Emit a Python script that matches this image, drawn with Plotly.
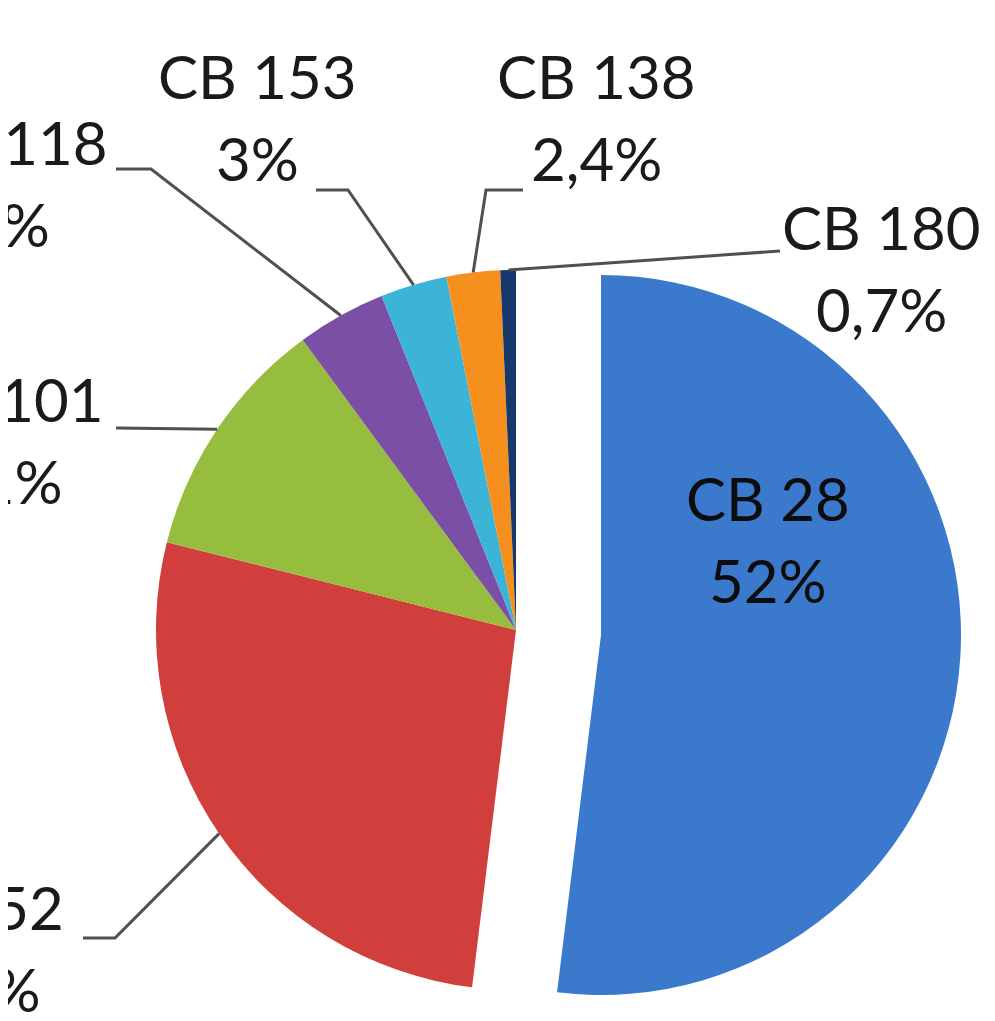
import math
import plotly.graph_objects as go

# ---- data ----
categories = ["CB 28", "CB 52", "CB 101", "CB 118", "CB 153", "CB 138", "CB 180"]
values = [52, 27, 11, 4, 3, 2.4, 0.7]
pct_labels = ["52%", "27%", "11%", "4%", "3%", "2,4%", "0,7%"]
colors = ["#3A79CC", "#D03F3B", "#97BD3F", "#7B4FA6", "#3CB4D7", "#F5901F", "#17386A"]

# ---- layout constants (pixels) ----
W, H = 995, 1021
CX, CY, R = 508, 622, 360          # centre / radius of the pie
PULL_DX, PULL_DY = 85, 5           # offset of the exploded CB 28 slice
FONT = dict(family="Lato, 'Open Sans', sans-serif", size=60, color="#1a1a1a")
LINE_GAP = 82
TEXT_DY = -11


def px(x, y):
    return x / W, 1 - y / H


def dom(cx, cy, r):
    x0, y1 = px(cx - r, cy - r)
    x1, y0 = px(cx + r, cy + r)
    return dict(x=[x0, x1], y=[y0, y1])


fig = go.Figure()
# all slices except CB 28
fig.add_trace(go.Pie(
    labels=categories, values=values, sort=False, direction="clockwise", rotation=0,
    marker=dict(colors=["rgba(0,0,0,0)"] + colors[1:], line=dict(width=0)),
    textinfo="none", hoverinfo="label+percent", showlegend=False,
    domain=dom(CX, CY, R),
))
# exploded CB 28 slice
fig.add_trace(go.Pie(
    labels=categories, values=values, sort=False, direction="clockwise", rotation=0,
    marker=dict(colors=[colors[0]] + ["rgba(0,0,0,0)"] * (len(colors) - 1), line=dict(width=0)),
    textinfo="none", hoverinfo="label+percent", showlegend=False,
    domain=dom(CX + PULL_DX, CY + PULL_DY, R),
))

# slice anchor points on the rim, from the data (mid-angle of each slice)
total = sum(values)
cum = 0
anchors = []
for v in values:
    mid = (cum + v / 2) / total * 2 * math.pi
    anchors.append((CX + R * math.sin(mid), CY - R * math.cos(mid)))
    cum += v

# label placement: (name centre x, name centre y, leader-line points before anchor)
label_pos = {
    "CB 52": (-26, 910, [(75, 930), (107, 930)]),
    "CB 101": (-4, 402, [(108, 420)]),
    "CB 118": (0, 145, [(108, 161), (143, 161)]),
    "CB 153": (250, 79, [(308, 182), (340, 182)]),
    "CB 138": (588, 79, [(515, 182), (478, 182)]),
    "CB 180": (873, 230, [(772, 243)]),
}

annotations = []
shapes = []
for i, cat in enumerate(categories):
    if cat == "CB 28":
        tx, ty = 760, 501
        col = "#0d0d0d"
    else:
        tx, ty, pts = label_pos[cat]
        pts = pts + [anchors[i]]
        path = "M " + " L ".join(f"{px(x, y)[0]},{px(x, y)[1]}" for x, y in pts)
        shapes.append(dict(type="path", path=path, xref="paper", yref="paper",
                           line=dict(color="#505050", width=3)))
        col = "#1a1a1a"
    for j, txt in enumerate([cat, pct_labels[i]]):
        x, y = px(tx, ty + TEXT_DY + j * LINE_GAP)
        annotations.append(dict(text=txt, x=x, y=y, xref="paper", yref="paper",
                                xanchor="center", yanchor="middle", showarrow=False,
                                font=dict(FONT, color=col)))

fig.update_layout(
    width=W, height=H, margin=dict(l=0, r=0, t=0, b=0),
    paper_bgcolor="white", plot_bgcolor="white",
    annotations=annotations, shapes=shapes,
)
fig.write_html("out.html")
